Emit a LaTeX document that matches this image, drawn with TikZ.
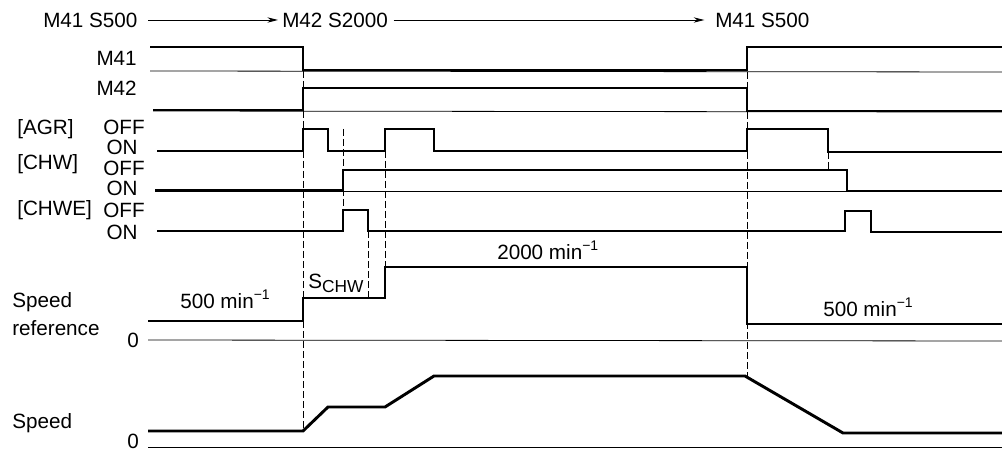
\documentclass[tikz,border=0pt]{standalone}
\usepackage{fontspec}
\setmainfont{Liberation Sans}
\usetikzlibrary{arrows.meta}
\newcommand\mysup[1]{\raisebox{0.75ex}{\fontsize{10.5}{10.5}\selectfont #1}}
\newcommand\mysub[1]{\raisebox{-0.45ex}{\fontsize{13}{13}\selectfont #1}}
\begin{document}
\begin{tikzpicture}[x=0.75pt,y=-0.75pt,
  lbl/.style={inner sep=0pt,font=\fontsize{15.5}{18}\selectfont},
  sig/.style={line width=2.2pt,line join=miter},
  base/.style={line width=0.6pt},
  guide/.style={line width=0.6pt,dash pattern=on 5pt off 2.5pt},
  arr/.style={line width=0.7pt,-{Stealth[length=8pt,width=4pt]}}]
\useasboundingbox (0,0) rectangle (1002,452);
% top sequence
\node[lbl,anchor=west] (c1) at (43,20) {M41 S500};
\node[lbl,anchor=west] (c2) at (282,20) {M42 S2000};
\node[lbl,anchor=west] (c3) at (715,20) {M41 S500};
\draw[arr] ([xshift=8pt]c1.east) -- ([xshift=-3pt]c2.west);
\draw[arr] ([xshift=4pt]c2.east) -- ([xshift=-8pt]c3.west);
% labels
\node[lbl,anchor=east] (lm41) at (137,58) {M41};
\node[lbl,anchor=east] (lm42) at (137,88) {M42};
\node[lbl,anchor=west] (lagr) at (17,129) {[AGR]};
\node[lbl] (agroff) at (124,127) {OFF};
\node[lbl] (agron) at (122,147) {ON};
\node[lbl,anchor=west] (lchw) at (17,164) {[CHW]};
\node[lbl] (chwoff) at (124,168) {OFF};
\node[lbl] (chwon) at (122,188) {ON};
\node[lbl,anchor=west] (lchwe) at (17,210) {[CHWE]};
\node[lbl] (chweoff) at (124,210) {OFF};
\node[lbl] (chweon) at (122,232) {ON};
\node[lbl,anchor=west] (lsr1) at (12,302) {Speed};
\node[lbl,anchor=west] (lsr2) at (12,328) {reference};
\node[lbl] (z1) at (133,340) {0};
\node[lbl,anchor=west] (lsp) at (12,423) {Speed};
\node[lbl] (z2) at (133,441) {0};
\node[lbl,anchor=base west] (v500a) at (180,308) {500 min\mysup{−1}};
\node[lbl,anchor=base west] (v2000) at (497,259) {2000 min\mysup{−1}};
\node[lbl,anchor=base west] (v500b) at (823,316) {500 min\mysup{−1}};
\node[lbl,anchor=base west] (schw) at (308,288) {S\mysub{CHW}};
% baselines
\draw[base] (150,71) -- (1002,72);
\draw[base] (153,111) -- (1002,112);
\draw[base] (155,191) -- (1002,191);
\draw[base] (148,340) -- (1002,341);
\draw[base] (148,447) -- (1002,447);
% signals
\draw[sig] (150,47) -- (303,47) -- (303,70) -- (747,70) -- (747,47) -- (1002,47);
\draw[sig] (153,110) -- (303,110) -- (303,88) -- (747,88) -- (747,111) -- (1002,111);
\draw[sig] (157,151) -- (303,151) -- (303,129) -- (328,129) -- (328,151) -- (385,151) -- (385,129) -- (434,129) -- (434,151) -- (747,151) -- (747,129) -- (828,129) -- (828,152) -- (1002,152);
\draw[sig] (155,190) -- (343,190) -- (343,170) -- (847,170) -- (847,191) -- (1002,191);
\draw[sig] (157,231) -- (343,231) -- (343,210) -- (368,210) -- (368,231) -- (845,231) -- (845,211) -- (871,211) -- (871,232) -- (1002,232);
\draw[sig] (148,321) -- (303,321) -- (303,298) -- (385,298) -- (385,267) -- (747,267) -- (747,324) -- (1002,324);
\draw[sig] (148,431) -- (303,431) -- (328,407) -- (385,407) -- (434,376) -- (745,376) -- (843,433) -- (1002,433);
% guides
\coordinate (g1a) at (303,71); \coordinate (g1b) at (303,431);
\coordinate (g2a) at (343,129); \coordinate (g2b) at (343,210);
\coordinate (g3a) at (368,231); \coordinate (g3b) at (368,298);
\coordinate (g4a) at (385,151); \coordinate (g4b) at (385,267);
\coordinate (g5a) at (747,72); \coordinate (g5b) at (747,376);
\coordinate (g6a) at (828,152); \coordinate (g6b) at (828,170);
\draw[guide] (g1a) -- (g1b);
\draw[guide] (g2a) -- (g2b);
\draw[guide] (g3a) -- (g3b);
\draw[guide] (g4a) -- (g4b);
\draw[guide] (g5a) -- (g5b);
\draw[guide] (g6a) -- (g6b);
\end{tikzpicture}
\end{document}
